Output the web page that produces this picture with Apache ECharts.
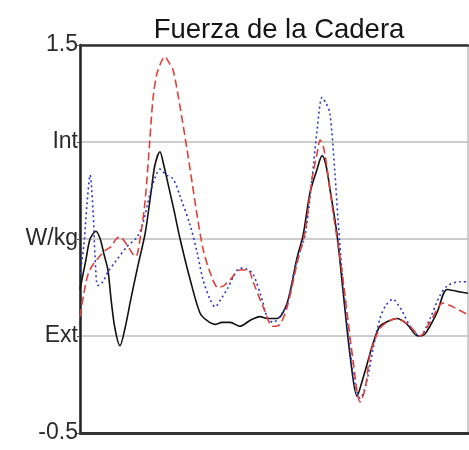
<!DOCTYPE html>
<html>
<head>
<meta charset="utf-8">
<script src="https://cdn.jsdelivr.net/npm/echarts@6/dist/echarts.min.js"></script>
<style>
  html, body { margin: 0; padding: 0; background: #fff; }
  #chart { width: 469px; height: 450px; }
</style>
</head>
<body>
<div id="chart"></div>
<script>
// Hip moment (W/kg) over the gait cycle (% of cycle), three traces
const solidX = [0, 1.5, 2.6, 4.1, 5.2, 6.2, 7.2, 8.0, 9.0, 10.3, 11.6, 13.1, 14.9, 16.8, 18.3, 19.3, 20.6, 21.6, 22.4, 24.2, 25.8, 28.4, 30.9, 32.7, 34.8, 36.6, 38.7, 41.2, 43.8, 46.4, 48.2, 50.8, 53.4, 55.9, 57.5, 59.3, 61.1, 62.4, 63.4, 64.4, 66.2, 67.8, 69.6, 71.4, 72.9, 74.2, 75.5, 77.3, 79.9, 81.7, 84.3, 87.1, 88.9, 92.0, 94.6, 97.2, 100];
const solidY = [0.24, 0.39, 0.50, 0.54, 0.50, 0.42, 0.34, 0.19, 0.04, -0.05, 0.04, 0.19, 0.36, 0.53, 0.74, 0.88, 0.95, 0.88, 0.81, 0.65, 0.50, 0.29, 0.12, 0.08, 0.06, 0.07, 0.07, 0.05, 0.08, 0.10, 0.09, 0.09, 0.17, 0.40, 0.52, 0.74, 0.86, 0.93, 0.88, 0.76, 0.53, 0.23, -0.10, -0.31, -0.22, -0.13, -0.04, 0.05, 0.08, 0.09, 0.06, 0.00, 0.01, 0.12, 0.24, 0.23, 0.22];

const dottedX = [0, 1.0, 1.8, 2.6, 3.4, 3.9, 4.6, 5.9, 7.2, 9.0, 12.1, 14.7, 16.2, 18.0, 19.6, 20.6, 22.2, 24.0, 25.8, 28.4, 30.2, 31.7, 33.5, 34.8, 36.3, 37.9, 40.5, 42.0, 43.3, 44.6, 46.9, 48.2, 49.7, 51.5, 53.4, 55.9, 58.0, 59.8, 61.1, 62.4, 63.4, 64.4, 65.7, 66.5, 67.8, 69.6, 70.9, 72.2, 73.7, 75.5, 77.3, 78.9, 80.7, 82.0, 83.0, 85.1, 87.6, 90.2, 92.8, 94.8, 97.9, 100];
const dottedY = [0.32, 0.47, 0.68, 0.83, 0.63, 0.40, 0.26, 0.28, 0.33, 0.38, 0.46, 0.51, 0.58, 0.73, 0.83, 0.86, 0.83, 0.81, 0.72, 0.57, 0.43, 0.29, 0.19, 0.15, 0.19, 0.24, 0.34, 0.35, 0.34, 0.32, 0.19, 0.10, 0.07, 0.10, 0.17, 0.39, 0.52, 0.81, 1.06, 1.23, 1.20, 1.15, 0.84, 0.60, 0.27, -0.07, -0.25, -0.32, -0.25, -0.07, 0.09, 0.16, 0.19, 0.16, 0.13, 0.05, 0.00, 0.09, 0.21, 0.26, 0.28, 0.28];

const dashedX = [0, 1.0, 2.1, 3.4, 4.6, 6.4, 8.0, 9.3, 10.3, 12.4, 13.7, 14.4, 15.7, 16.8, 18.0, 18.8, 19.8, 21.1, 21.9, 22.9, 24.0, 25.8, 27.6, 28.9, 30.2, 31.7, 33.5, 35.6, 37.1, 38.7, 41.2, 43.3, 44.6, 47.2, 49.7, 51.5, 53.4, 55.9, 58.0, 59.8, 61.1, 61.9, 62.9, 63.9, 65.2, 66.5, 67.8, 70.4, 72.2, 73.5, 74.7, 76.0, 77.3, 79.9, 81.7, 85.1, 87.6, 90.2, 93.6, 96.1, 100];
const dashedY = [0.10, 0.22, 0.32, 0.37, 0.40, 0.44, 0.46, 0.50, 0.51, 0.46, 0.42, 0.41, 0.53, 0.70, 1.01, 1.22, 1.35, 1.42, 1.44, 1.41, 1.37, 1.18, 0.96, 0.79, 0.62, 0.45, 0.33, 0.25, 0.26, 0.29, 0.34, 0.34, 0.28, 0.15, 0.05, 0.06, 0.15, 0.37, 0.54, 0.81, 0.94, 1.01, 0.96, 0.83, 0.64, 0.47, 0.29, -0.13, -0.34, -0.27, -0.10, -0.02, 0.04, 0.08, 0.09, 0.05, 0.00, 0.07, 0.17, 0.15, 0.11];

// Y tick values and the words printed at them
const yTicks = [-0.5, 0, 0.5, 1, 1.5];
const yTickLabels = ['-0.5', 'Ext', 'W/kg', 'Int', '1.5'];

const titleText = 'Fuerza de la Cadera';

function pairs(xs, ys) {
  return xs.map((x, i) => [x, ys[i]]);
}

const chart = echarts.init(document.getElementById('chart'), null, { renderer: 'canvas' });

const font = '"Liberation Sans", Arial, sans-serif';

chart.setOption({
  animation: false,
  backgroundColor: '#ffffff',
  title: {
    text: titleText,
    left: 274,
    textAlign: 'center',
    top: 11,
    textStyle: { fontFamily: font, fontSize: 27.5, fontWeight: 'normal', color: '#151515' }
  },
  grid: {
    left: 80, top: 45, right: 1, bottom: 17,
    show: true, borderColor: '#9a9a9a', borderWidth: 1, backgroundColor: 'transparent'
  },
  xAxis: [{
    type: 'value', min: 0, max: 100,
    axisLine: { show: true, onZero: false, lineStyle: { color: '#333', width: 3 } },
    axisTick: { show: false }, axisLabel: { show: false }, splitLine: { show: false }
  }, {
    type: 'value', min: 0, max: 100, position: 'top',
    axisLine: { show: true, onZero: false, lineStyle: { color: '#333', width: 2.5 } },
    axisTick: { show: false }, axisLabel: { show: false }, splitLine: { show: false }
  }],
  yAxis: {
    type: 'value', min: -0.5, max: 1.5, interval: 0.5,
    axisLine: { show: true, onZero: false, lineStyle: { color: '#222', width: 2.5 } },
    axisTick: { show: true, length: 3, lineStyle: { color: '#555', width: 1 } },
    axisLabel: {
      margin: 2,
      fontFamily: font, fontSize: 23, color: '#2a2a2a',
      formatter: function (v) {
        const i = yTicks.findIndex(t => Math.abs(t - v) < 1e-6);
        return i >= 0 ? yTickLabels[i] : '';
      }
    },
    splitLine: { show: true, lineStyle: { color: '#bdbdbd', width: 1.5 } }
  },
  series: [{
    type: 'line', name: 'solid', data: pairs(solidX, solidY),
    showSymbol: false, smooth: 0.3,
    lineStyle: { color: '#111111', width: 1.6, type: 'solid' }
  }, {
    type: 'line', name: 'dotted', data: pairs(dottedX, dottedY),
    showSymbol: false, smooth: 0.3,
    lineStyle: { color: '#2a36c8', width: 1.6, type: [2, 3] }
  }, {
    type: 'line', name: 'dashed', data: pairs(dashedX, dashedY),
    showSymbol: false, smooth: 0.3,
    lineStyle: { color: '#e0403a', width: 1.6, type: [8, 4] }
  }]
});
</script>
</body>
</html>
